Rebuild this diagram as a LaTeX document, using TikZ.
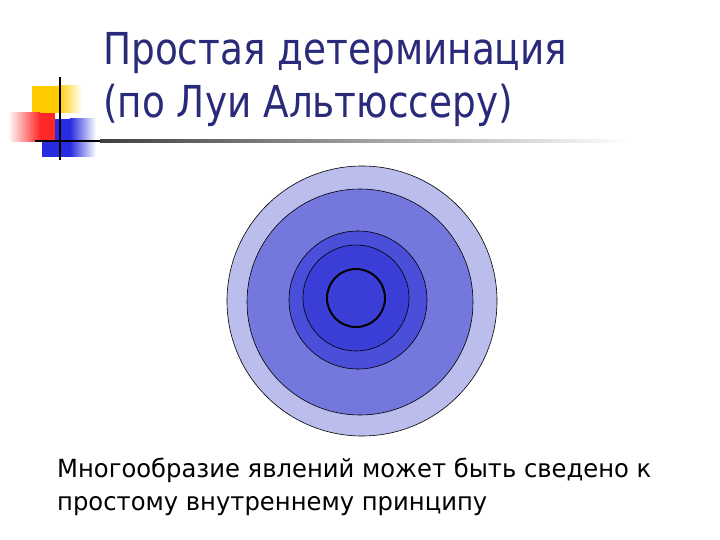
\documentclass[tikz,border=0pt]{standalone}
\usepackage{fontspec}
\setmainfont{DejaVu Sans}
\newfontfamily\titlefont[FakeStretch=0.85]{DejaVu Sans}
\newfontfamily\bodyfont[FakeStretch=0.97]{DejaVu Sans}
\definecolor{titleblue}{RGB}{42,42,122}
\definecolor{ringA}{RGB}{187,189,236}
\definecolor{ringB}{RGB}{116,120,220}
\definecolor{ringC}{RGB}{74,78,216}
\definecolor{ringD}{RGB}{58,62,214}
\definecolor{logoyellow}{RGB}{255,204,0}
\definecolor{logored}{RGB}{255,40,40}
\definecolor{logoblue}{RGB}{40,44,224}
\tikzset{
  ring/.style={draw=black, line width=0.6pt},
  titletext/.style={font=\titlefont\fontsize{44}{53}\selectfont, text=titleblue, anchor=base west, inner sep=0pt},
  bodytext/.style={font=\bodyfont\fontsize{25}{33}\selectfont, text=black, anchor=base west, inner sep=0pt},
}
\begin{document}
\begin{tikzpicture}[x=1pt,y=-1pt]
\useasboundingbox[fill=white] (0,0) rectangle (720,540);
% logo
\fill[logoyellow] (32,86) rectangle (58,113);
\shade[left color=logoyellow, right color=white] (58,86) rectangle (82,113);
\fill[logoblue] (42,119) rectangle (70,157);
\shade[left color=logoblue, right color=white] (70,119) rectangle (96,157);
\shade[left color=white, right color=logored] (8,113) rectangle (40,142);
\fill[logored] (40,113) rectangle (55,142);
\draw[black, line width=2pt] (60,77) -- (60,160);
\draw[black, line width=2pt] (35,141) -- (100,141);
\shade[left color=black!75, right color=white] (100,140) rectangle (630,142.5);
% title
\node[titletext] (t1) at (103,65) {Простая детерминация};
\node[titletext] (t2) at (103,118) {(по Луи Альтюссеру)};
% rings
\draw[ring, fill=ringA] (362,301) circle (135);
\draw[ring, fill=ringB] (360,302) circle (113);
\draw[ring, fill=ringC] (358,300) circle (69);
\draw[ring, fill=ringD] (356,298) circle (53);
\draw[black, line width=2pt, fill=ringD] (356,298) circle (29);
% body text
\node[bodytext] (b1) at (57,477) {Многообразие явлений может быть сведено к};
\node[bodytext] (b2) at (57,510) {простому внутреннему принципу};
\end{tikzpicture}
\end{document}
